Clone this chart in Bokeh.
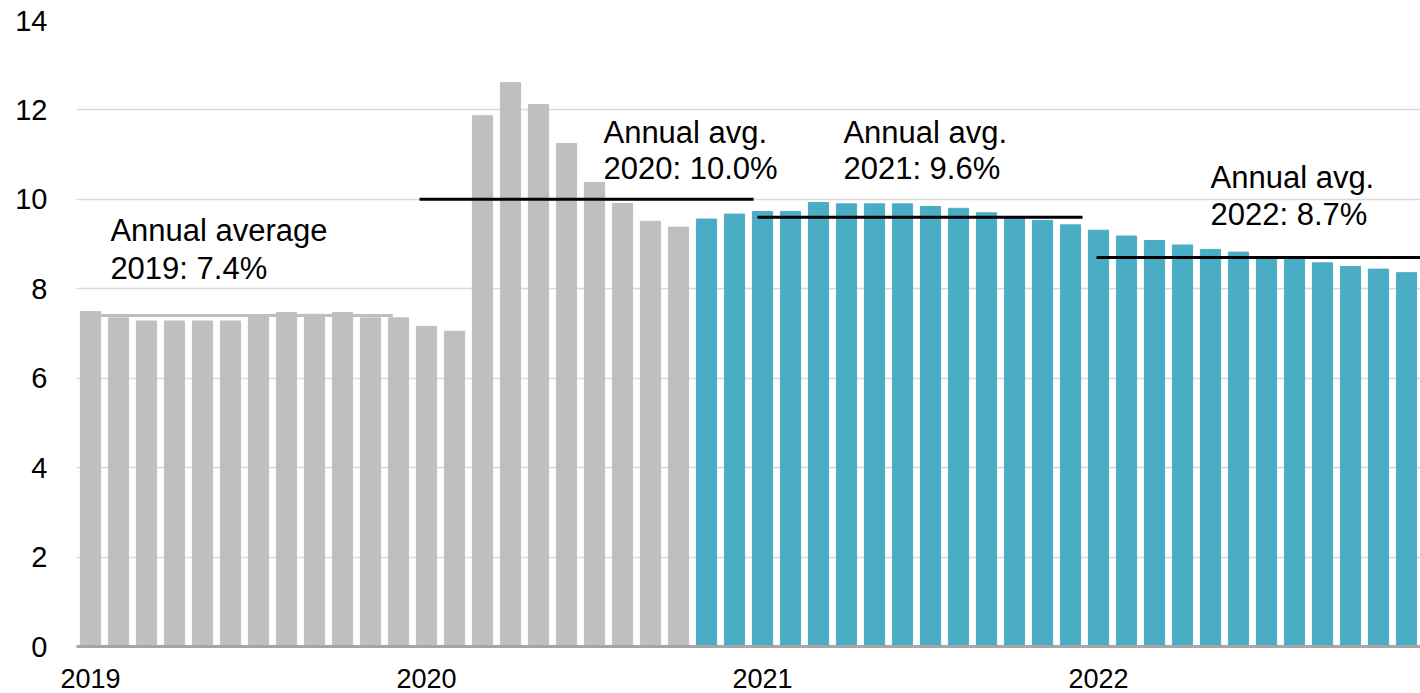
from bokeh.plotting import figure
from bokeh.models import Range1d, FixedTicker, ColumnDataSource
from bokeh.core.properties import value
from bokeh.embed import file_html
from bokeh.resources import INLINE

# Monthly unemployment rate (%), Jan 2019 - Dec 2022
years = ["2019", "2020", "2021", "2022"]
rate_2019 = [7.49, 7.35, 7.28, 7.28, 7.28, 7.28, 7.40, 7.47, 7.43, 7.47, 7.35, 7.35]
rate_2020 = [7.16, 7.05, 11.87, 12.61, 12.12, 11.25, 10.38, 9.91, 9.51, 9.38, 9.56, 9.67]
rate_2021 = [9.73, 9.73, 9.93, 9.90, 9.90, 9.90, 9.84, 9.80, 9.70, 9.60, 9.53, 9.43]
rate_2022 = [9.31, 9.18, 9.08, 8.98, 8.88, 8.82, 8.72, 8.68, 8.58, 8.50, 8.44, 8.36]
annual_avg = [7.4, 10.0, 9.6, 8.7]
observed_months = 22  # Jan 2019 - Oct 2020 observed, rest projected

GREY = "#bfbfbf"
TEAL = "#4bacc6"
FONT = "Liberation Sans"

rates = rate_2019 + rate_2020 + rate_2021 + rate_2022
idx = list(range(len(rates)))
colors = [GREY if i < observed_months else TEAL for i in idx]
src = ColumnDataSource(dict(x=idx, top=rates, color=colors))

p = figure(width=1420, height=693, output_backend="svg", toolbar_location=None,
           x_range=Range1d(-0.5, 47.5), y_range=Range1d(0, 14),
           min_border_left=76, min_border_right=0, min_border_top=20,
           min_border_bottom=47)
p.outline_line_color = None
p.background_fill_color = "white"
p.border_fill_color = "white"

p.vbar(x="x", top="top", width=0.72, bottom=0, color="color", source=src)

# Annual average reference lines
seg_x0 = [-0.32, 11.75, 23.82, 35.93]
seg_x1 = [10.8, 23.68, 35.43, 47.5]
seg_col = [GREY, "black", "black", "black"]
p.segment(x0=seg_x0, y0=annual_avg, x1=seg_x1, y1=annual_avg,
          line_color=seg_col, line_width=3)

# Annotations: (first line, second line, left x, baseline y of each line)
note_lines = [
    ("Annual average", f"{years[0]}: {annual_avg[0]:.1f}%", 0.71, 9.30, 8.45),
    ("Annual avg.", f"{years[1]}: {annual_avg[1]:.1f}%", 18.32, 11.50, 10.70),
    ("Annual avg.", f"{years[2]}: {annual_avg[2]:.1f}%", 26.89, 11.50, 10.70),
    ("Annual avg.", f"{years[3]}: {annual_avg[3]:.1f}%", 40.0, 10.49, 9.66),
]
tx, ty, tt = [], [], []
for l1, l2, x, y1, y2 in note_lines:
    tx += [x, x]
    ty += [y1, y2]
    tt += [l1, l2]
p.text(x=tx, y=ty, text=tt, text_font=value(FONT), text_font_size="31px",
       text_color="black", text_align="left", text_baseline="alphabetic")

# Axes
p.xgrid.visible = False
p.ygrid.grid_line_color = "#d9d9d9"
p.ygrid.grid_line_width = 1.5
p.ygrid.ticker = FixedTicker(ticks=list(range(0, 15, 2)))

p.yaxis.ticker = FixedTicker(ticks=list(range(0, 15, 2)))
p.yaxis.axis_line_color = None
p.yaxis.major_tick_line_color = None
p.yaxis.minor_tick_line_color = None
p.yaxis.major_tick_out = 0
p.yaxis.major_tick_in = 0
p.yaxis.major_label_standoff = 29
p.yaxis.major_label_text_font = FONT
p.yaxis.major_label_text_font_size = "29px"
p.yaxis.major_label_text_color = "black"

p.xaxis.ticker = FixedTicker(ticks=[0, 12, 24, 36])
p.xaxis.major_label_overrides = {0: years[0], 12: years[1], 24: years[2], 36: years[3]}
p.xaxis.axis_line_color = "#a6a6a6"
p.xaxis.axis_line_width = 3
p.xaxis.major_tick_line_color = None
p.xaxis.minor_tick_line_color = None
p.xaxis.major_tick_out = 0
p.xaxis.major_tick_in = 0
p.xaxis.major_label_standoff = 22
p.xaxis.major_label_text_font = FONT
p.xaxis.major_label_text_font_size = "27px"
p.xaxis.major_label_text_color = "black"

open("out.html", "w").write(file_html(p, INLINE))
